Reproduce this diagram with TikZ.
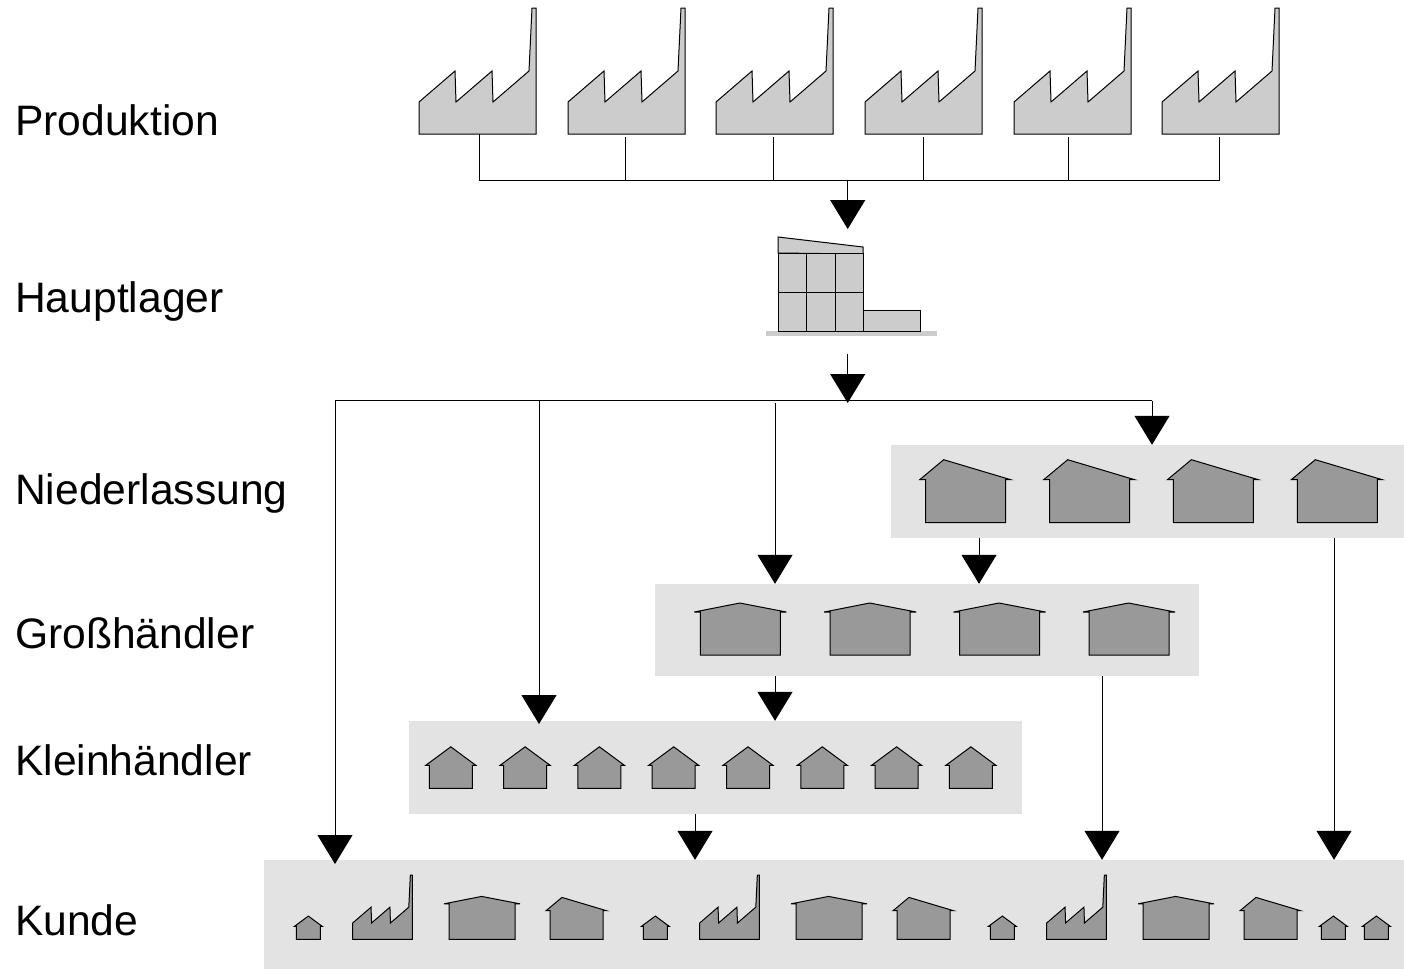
\documentclass[tikz,border=0pt]{standalone}
\usepackage{fontspec}
\setmainfont{Liberation Sans}
\usetikzlibrary{arrows.meta,positioning,calc}
\definecolor{palegray}{HTML}{CCCCCC}
\definecolor{darkgray}{HTML}{999999}
\definecolor{panelgray}{HTML}{E3E3E3}
\tikzset{
  pale/.style={draw=black, fill=palegray, line width=1pt},
  dark/.style={draw=black, fill=darkgray, line width=1pt},
  panel/.style={fill=panelgray, draw=none, inner sep=0pt},
  level/.style={anchor=base west, inner sep=0pt, font=\fontsize{42.6}{50}\selectfont},
  wire/.style={line width=1pt},
  arrow/.style={-{Triangle[length=29pt,width=35pt]}, line width=1pt},
  pics/factory/.style={code={
    \draw[pic actions] (0,0) -- (0,-32) -- (36,-63) -- (37,-32) -- (73,-63) -- (74,-32) -- (110,-63) -- (113,-126) -- (117,-126) -- (117,0) -- cycle;
  }},
  pics/slanted/.style={code={
    \draw[pic actions] (0,0) -- (0,-43) -- (-6,-43) -- (18,-63) -- (85,-43) -- (80,-43) -- (80,0) -- cycle;
  }},
  pics/wide/.style={code={
    \draw[pic actions] (0,0) -- (0,-43) -- (-6,-43) -- (39.5,-52) -- (86,-43) -- (80,-43) -- (80,0) -- cycle;
  }},
  pics/small/.style={code={
    \draw[pic actions] (0,0) -- (0,-23) -- (-3.5,-23) -- (21.5,-41.5) -- (46.5,-23) -- (43,-23) -- (43,0) -- cycle;
  }},
  pics/store/.style={code={
    \draw[pic actions] (0,-78) -- (0,-94) -- (85,-84) -- (85,-77) -- cycle;
    \draw[pic actions] (0,0) rectangle (28.5,-39);
    \draw[pic actions] (28.5,0) rectangle (57,-39);
    \draw[pic actions] (57,0) rectangle (85,-39);
    \draw[pic actions] (0,-39) rectangle (28.5,-78);
    \draw[pic actions] (28.5,-39) rectangle (57,-78);
    \draw[pic actions] (57,-39) rectangle (85,-78);
    \draw[pic actions] (85,0) rectangle (142,-21);
  }}
}
\begin{document}
\begin{tikzpicture}[x=1pt, y=-1pt]
  \useasboundingbox (0,0) rectangle (1404,969);
  % level names
  \node[level] (lprod) at (15,135) {Produktion};
  \node[level] (llager) at (15,312) {Hauptlager};
  \node[level] (lnl) at (15,504) {Niederlassung};
  \node[level] (lgh) at (15,648) {Großhändler};
  \node[level] (lkh) at (15,775) {Kleinhändler};
  \node[level] (lku) at (15,935) {Kunde};
  % grey bands
  \node[panel, minimum width=513pt, minimum height=93pt] (nl) at (1147.5,491.5) {};
  \node[panel, minimum width=544pt, minimum height=92pt] (gh) at (927,630) {};
  \node[panel, minimum width=613pt, minimum height=93pt] (kh) at (715.5,767.5) {};
  \node[panel, minimum width=1140pt, minimum height=109pt] (ku) at (834,914.5) {};
  % production
  \foreach \x in {419,568,716,865,1014,1162}
    \path (\x,134) pic[pale] {factory};
  \coordinate (busl) at (479,180.8);
  \coordinate (busr) at (1219,180.8);
  \coordinate (trunk) at (847.7,180.8);
  \draw[wire] (479,134) -- (busl);
  \foreach \i/\x in {a/625.5,b/773,c/923,d/1068,e/1219} {
    \coordinate (drop\i) at (\x,137);
    \draw[wire] (drop\i) -- (drop\i |- busl);
  }
  \draw[wire] (busl) -- (busr);
  \coordinate (lagertip) at (847.7,229);
  \draw[arrow] (trunk) -- (lagertip);
  % main store
  \node[fill=palegray, inner sep=0pt, minimum width=171pt, minimum height=5pt] (base) at (851.5,333.5) {};
  \path (778,331) pic[pale] {store};
  \coordinate (out) at (847.7,354);
  \coordinate (split) at (847.7,403);
  \draw[arrow] (out) -- (split);
  \coordinate (rowl) at (335,400.6);
  \coordinate (rowr) at (1152,400.6);
  \draw[wire] (rowl) -- (rowr);
  % branches
  \coordinate (row2) at (539,400.6);
  \coordinate (row3) at (775,403);
  \coordinate (row4) at (1152,400.6);
  \coordinate (kutip) at (335,864);
  \draw[arrow] (rowl) -- (kutip);
  \draw[arrow] (row2) -- (539,724);
  \draw[arrow] (row3) -- (row3 |- gh.north);
  \draw[arrow] (row4) -- (row4 |- nl.north);
  \foreach \x in {925.7,1049.7,1173.4,1297.3}
    \path (\x,522.7) pic[dark] {slanted};
  \coordinate (nla) at (979,538);
  \coordinate (nlb) at (1334,538);
  \draw[arrow] (nla) -- (nla |- gh.north);
  \draw[arrow] (nlb) -- (nlb |- ku.north);
  % wholesale
  \foreach \x in {700.3,830.2,959.5,1089}
    \path (\x,655) pic[dark] {wide};
  \coordinate (gha) at (775,676);
  \coordinate (ghb) at (1102,676);
  \draw[arrow] (gha) -- (gha |- kh.north);
  \draw[arrow] (ghb) -- (ghb |- ku.north);
  % retail
  \foreach \x in {429.3,503.6,577.9,652.2,726.5,800.8,875.1,949.4}
    \path (\x,788.3) pic[dark] {small};
  \coordinate (kha) at (695,814);
  \draw[arrow] (kha) -- (kha |- ku.north);
  % customers
  \foreach \d in {0,347,694} {
    \path (296.3+\d,939.3) pic[dark, scale=.56] {small};
    \path (352.7+\d,939.3) pic[dark, scale=.51] {factory};
    \path (449+\d,939.3) pic[dark, scale=.825] {wide};
    \path (550+\d,939.3) pic[dark, scale=.665] {slanted};
  }
  \path (1321.3,939.3) pic[dark, scale=.56] {small};
  \path (1364.3,939.3) pic[dark, scale=.56] {small};
\end{tikzpicture}
\end{document}
